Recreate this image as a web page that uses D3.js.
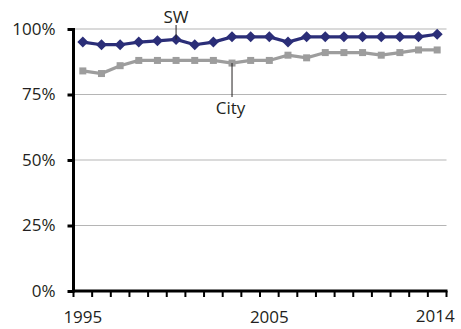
<!DOCTYPE html>
<html>
<head>
<meta charset="utf-8">
<script src="https://cdn.jsdelivr.net/npm/d3@7"></script>
<style>
  body { margin: 0; background: #fff; }
  text { font-family: "Open Sans", sans-serif; font-size: 17px; fill: #231f20; }
</style>
</head>
<body>
<script>
const years = [1995,1996,1997,1998,1999,2000,2001,2002,2003,2004,2005,2006,2007,2008,2009,2010,2011,2012,2013,2014];
const sw   = [95,94,94,95,95.5,96,94,95,97,97,97,95,97,97,97,97,97,97,97,98];
const city = [84,83,86,88,88,88,88,88,87,88,88,90,89,91,91,91,90,91,92,92];
const yTicks = [0,25,50,75,100];
const xLabels = [1995,2005,2014];

function main(){
    const width = 461, height = 329;
    const left = 73.5, right = 446.5, top = 29, bottom = 291;

    const svg = d3.select("body").append("svg")
        .attr("width", width)
        .attr("height", height);

    const xScale = d3.scaleBand().domain(years).range([left, right]).padding(0);
    const yScale = d3.scaleLinear().domain([0, 100]).range([bottom, top]);

    // gridlines
    svg.append("g")
        .selectAll("line")
        .data(yTicks.filter(d => d > 0))
        .enter().append("line")
        .attr("x1", left).attr("x2", right)
        .attr("y1", d => yScale(d)).attr("y2", d => yScale(d))
        .attr("stroke", "#b5b5b5").attr("stroke-width", 1.2);

    // y axis
    const yAxis = svg.append("g")
        .attr("transform", "translate(" + left + ",0)")
        .call(d3.axisLeft(yScale).tickValues(yTicks).tickFormat(d => d + "%").tickSize(6).tickPadding(12));
    yAxis.select(".domain").attr("stroke", "#000").attr("stroke-width", 3).attr("d", "M0," + (bottom + 1.5) + "V" + (top - 1));
    yAxis.selectAll(".tick line").attr("stroke", "#000").attr("stroke-width", 3);
    yAxis.selectAll("text").style("font-size", "17px").attr("fill", "#231f20");

    // x axis: ticks at band boundaries
    const xAxis = svg.append("g").attr("transform", "translate(0," + bottom + ")");
    xAxis.append("line")
        .attr("x1", left - 1.5).attr("x2", right + 1)
        .attr("stroke", "#000").attr("stroke-width", 3);
    const bounds = years.map(d => xScale(d)).concat([right]);
    xAxis.selectAll(".xt")
        .data(bounds)
        .enter().append("line")
        .attr("class", "xt")
        .attr("x1", d => d).attr("x2", d => d)
        .attr("y1", 0).attr("y2", 6)
        .attr("stroke", "#000").attr("stroke-width", 2);
    xAxis.selectAll(".xl")
        .data(xLabels)
        .enter().append("text")
        .attr("class", "xl")
        .attr("x", d => xScale(d) + xScale.bandwidth() / 2 - (d === 2014 ? 2 : 0))
        .attr("y", d => d === 2014 ? 30.5 : 32)
        .attr("text-anchor", "middle")
        .text(d => d);

    const cx = d => xScale(d) + xScale.bandwidth() / 2;

    const line = d3.line()
        .x((d, i) => cx(years[i]))
        .y(d => yScale(d));

    // City series
    svg.append("path")
        .datum(city)
        .attr("d", line)
        .attr("fill", "none")
        .attr("stroke", "#9d9d9d")
        .attr("stroke-width", 3.2);
    svg.selectAll(".sq")
        .data(city)
        .enter().append("rect")
        .attr("class", "sq")
        .attr("x", (d, i) => cx(years[i]) - 3.5)
        .attr("y", d => yScale(d) - 3.5)
        .attr("width", 7).attr("height", 7)
        .attr("fill", "#9d9d9d");

    // SW series
    svg.append("path")
        .datum(sw)
        .attr("d", line)
        .attr("fill", "none")
        .attr("stroke", "#2b2e78")
        .attr("stroke-width", 3.2);
    svg.selectAll(".dm")
        .data(sw)
        .enter().append("path")
        .attr("class", "dm")
        .attr("transform", (d, i) => "translate(" + cx(years[i]) + "," + yScale(d) + ")")
        .attr("d", "M0,-5.5L5.5,0L0,5.5L-5.5,0Z")
        .attr("fill", "#2b2e78");

    // labels with leader lines
    const swX = cx(2000), cityX = cx(2003);
    svg.append("line")
        .attr("x1", swX).attr("x2", swX)
        .attr("y1", 25).attr("y2", yScale(sw[5]))
        .attr("stroke", "#231f20").attr("stroke-width", 1);
    svg.append("text")
        .attr("x", swX).attr("y", 23)
        .attr("text-anchor", "middle")
        .text("SW");

    svg.append("line")
        .attr("x1", cityX).attr("x2", cityX)
        .attr("y1", yScale(city[8])).attr("y2", 97)
        .attr("stroke", "#231f20").attr("stroke-width", 1);
    svg.append("text")
        .attr("x", cityX - 1.5).attr("y", 114)
        .attr("text-anchor", "middle")
        .text("City");
}
main();
</script>
</body>
</html>
